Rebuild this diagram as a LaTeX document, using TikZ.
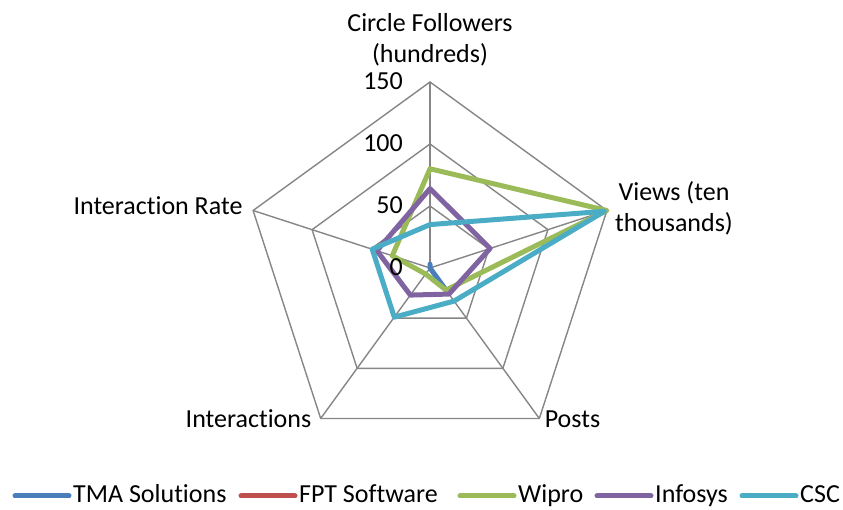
\documentclass[tikz,border=0pt]{standalone}
\usepackage{fontspec}
\setmainfont{Carlito}[Ligatures=NoCommon]
\usepackage{xcolor}
\definecolor{tma}{RGB}{74,126,187}
\definecolor{fpt}{RGB}{192,80,77}
\definecolor{wipro}{RGB}{155,187,89}
\definecolor{infosys}{RGB}{128,100,162}
\definecolor{csc}{RGB}{75,172,198}
\definecolor{gridgray}{RGB}{134,134,134}
\usetikzlibrary{calc}

\begin{document}
\begin{tikzpicture}[x=1pt,y=1pt,font=\fontsize{26}{31.7}\selectfont,
  gridline/.style={gridgray,line width=1.4pt},
  serie/.style={line width=5pt,line join=round,color=#1},
  lab/.style={inner sep=0pt,anchor=base}]
\useasboundingbox (0,0) rectangle (843,510);
\coordinate (c) at (430,242);

\begin{scope}[shift={(c)},scale=1.24]
% web
\foreach \r in {50,100,150}{
\draw[gridline] (90:\r) -- (18:\r) -- (-54:\r) -- (-126:\r) -- (162:\r) -- cycle;}
\foreach \a in {90,18,-54,-126,162}{
\draw[gridline] (0,0) -- (\a:150);}

% series
\foreach \col/\p/\q/\r/\s/\t in {tma/3/0/20/0/0,fpt/0/0/0/0/0,wipro/80/150/22/6/32,infosys/64/51/26/27/45,csc/35/148/33/49/49}{
\draw[serie=\col] (90:\p) -- (18:\q) -- (-54:\r) -- (-126:\s) -- (162:\t) -- cycle;}
\end{scope}

\foreach \v in {0,50,100,150}{
\node[lab,anchor=base east] (tick\v) at (403,{234+1.24*\v}) {\v};}

\node[lab,align=center] (followers) at (430,447) {Circle Followers\\(hundreds)};
\node[lab,align=center] (views) at (674,278) {Views (ten\\thousands)};
\node[lab] (posts) at (572.5,82) {Posts};
\node[lab] (interactions) at (248.5,82) {Interactions};
\node[lab] (rate) at (158,295) {Interaction Rate};

% legend
\foreach \col/\x/\txt in {tma/15/TMA Solutions,fpt/241/FPT Software,wipro/460/Wipro,infosys/597/Infosys,csc/742/CSC}{
\draw[serie=\col,line width=5pt,line cap=round] (\x,14) -- ++(54,0);
\node[lab,anchor=base west] (leg\col) at (\x+58,7) {\txt};}
\end{tikzpicture}
\end{document}
